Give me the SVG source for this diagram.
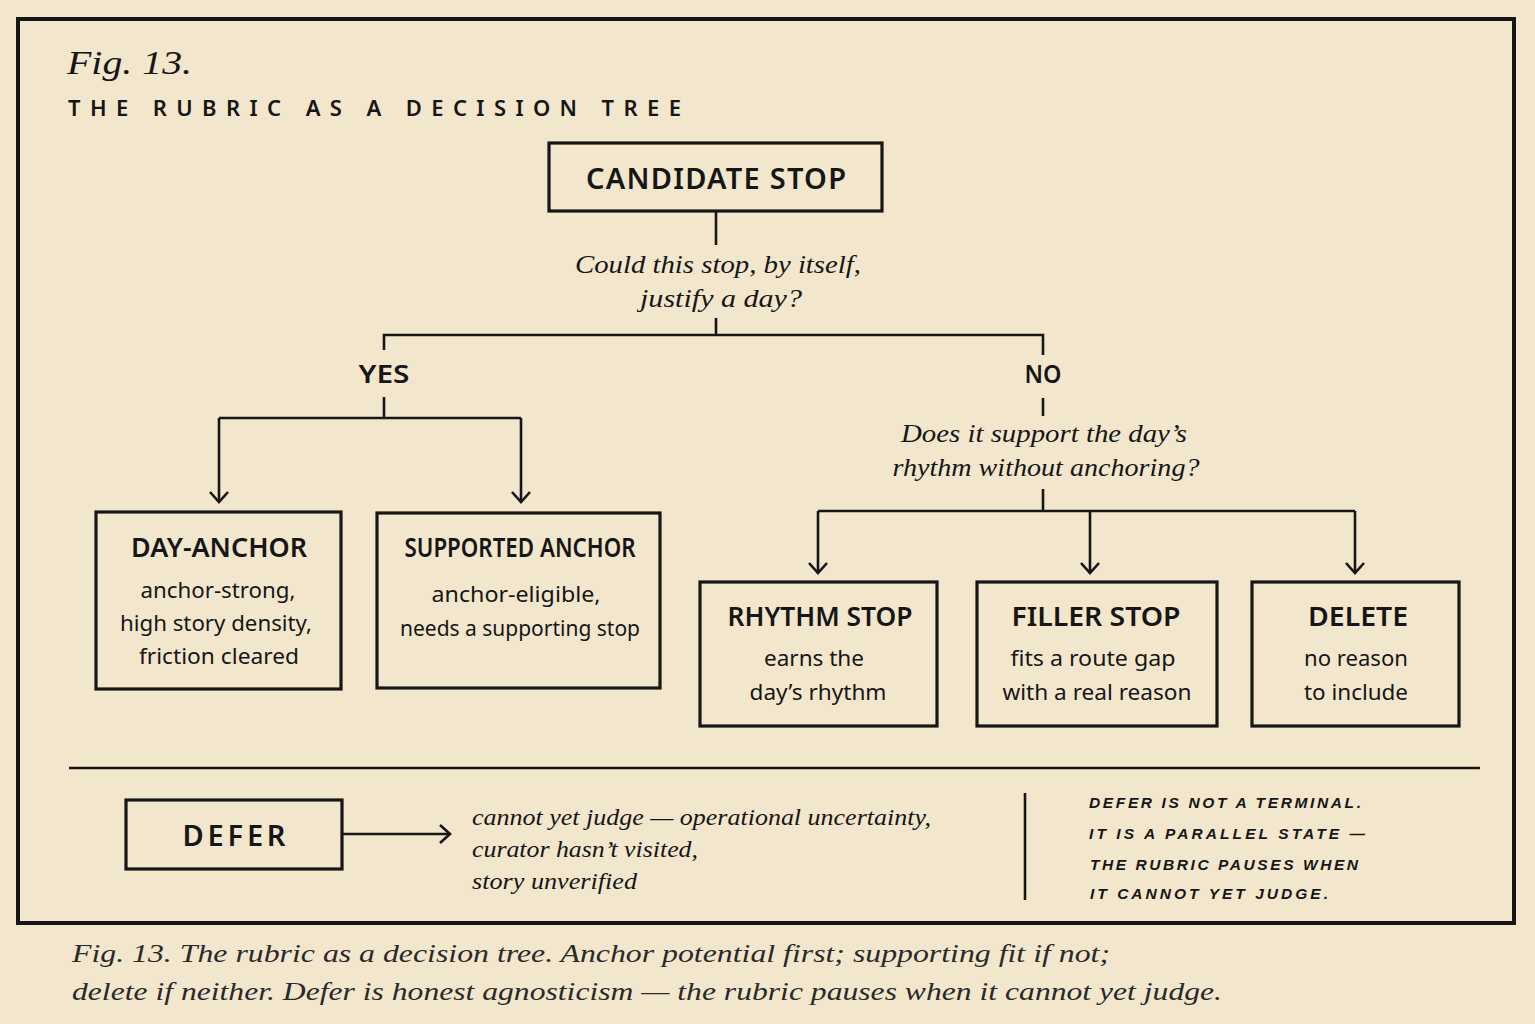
<svg xmlns="http://www.w3.org/2000/svg" width="1535" height="1024" viewBox="0 0 1535 1024">
<style>
.bg{fill:#f2e6cd}
.frame{fill:none;stroke:#161616;stroke-width:4}
.box{fill:none;stroke:#161616;stroke-width:3.2}
.ln{fill:none;stroke:#161616;stroke-width:2.6}
.title{font-family:"Noto Sans","Open Sans",sans-serif;font-weight:600;fill:#161616;text-anchor:middle}
.body{font-family:"Noto Sans","Open Sans",sans-serif;fill:#161616;text-anchor:middle;font-size:21px}
.q{font-family:"Liberation Serif","DejaVu Serif",serif;font-style:italic;fill:#161616;text-anchor:middle;font-size:26px}
.it{font-family:"Liberation Serif","DejaVu Serif",serif;font-style:italic;fill:#161616;font-size:23px}
.note{font-family:"Liberation Sans","DejaVu Sans",sans-serif;font-style:italic;font-weight:bold;fill:#161616;font-size:15.5px}
</style>
<defs>
<marker id="arr" viewBox="0 0 14 20" refX="12" refY="10" markerWidth="14" markerHeight="20" markerUnits="userSpaceOnUse" orient="auto">
<path d="M2,1 L12,10 L2,19" fill="none" stroke="#161616" stroke-width="2.6"/>
</marker>
</defs>
<rect class="bg" x="0" y="0" width="1535" height="1024"/>
<rect class="frame" x="18" y="19" width="1496" height="904"/>

<g id="header">
<text x="67" y="74" font-family="Liberation Serif,serif" font-style="italic" font-size="34" fill="#161616" textLength="125" lengthAdjust="spacingAndGlyphs">Fig. 13.</text>
<text x="68" y="116" font-family="Noto Sans,Open Sans,sans-serif" font-weight="600" font-size="22" fill="#161616" textLength="613" lengthAdjust="spacing">THE RUBRIC AS A DECISION TREE</text>
</g>

<g id="connectors">
<path class="ln" d="M716,211 V245"/>
<path class="ln" d="M716,318 V335 M384,350 V335 H1043 V355"/>
<path class="ln" d="M384,397 V418 M219,418 H521"/>
<path class="ln" d="M219,418 V502" marker-end="url(#arr)"/>
<path class="ln" d="M521,418 V502" marker-end="url(#arr)"/>
<path class="ln" d="M1043,398 V416"/>
<path class="ln" d="M1043,489 V511 M818,511 H1355"/>
<path class="ln" d="M818,511 V573" marker-end="url(#arr)"/>
<path class="ln" d="M1090,511 V573" marker-end="url(#arr)"/>
<path class="ln" d="M1355,511 V573" marker-end="url(#arr)"/>
<path class="ln" d="M342,834 H450" marker-end="url(#arr)"/>
</g>

<g id="q1">
<text class="q" x="718" y="273" textLength="286" lengthAdjust="spacingAndGlyphs">Could this stop, by itself,</text>
<text class="q" x="721" y="307" textLength="162" lengthAdjust="spacingAndGlyphs">justify a day?</text>
</g>
<g id="label-yes">
<text class="title" x="384" y="383" font-size="25" textLength="51" lengthAdjust="spacingAndGlyphs">YES</text>
</g>
<g id="label-no">
<text class="title" x="1043" y="383" font-size="25" textLength="37" lengthAdjust="spacingAndGlyphs">NO</text>
</g>
<g id="q2">
<text class="q" x="1044" y="442" textLength="286" lengthAdjust="spacingAndGlyphs">Does it support the day’s</text>
<text class="q" x="1046" y="476" textLength="307" lengthAdjust="spacingAndGlyphs">rhythm without anchoring?</text>
</g>

<g id="candidate-stop">
<rect class="box" x="549" y="143" width="333" height="68"/>
<text class="title" x="716" y="189" font-size="29" textLength="260" lengthAdjust="spacing">CANDIDATE STOP</text>
</g>

<g id="day-anchor">
<rect class="box" x="96" y="512" width="245" height="177"/>
<text class="title" x="219" y="557" font-size="27" textLength="176" lengthAdjust="spacingAndGlyphs">DAY-ANCHOR</text>
<text class="body" x="218" y="598" textLength="155" lengthAdjust="spacingAndGlyphs">anchor-strong,</text>
<text class="body" x="216" y="631" textLength="192" lengthAdjust="spacingAndGlyphs">high story density,</text>
<text class="body" x="219" y="664" textLength="160" lengthAdjust="spacingAndGlyphs">friction cleared</text>
</g>

<g id="supported-anchor">
<rect class="box" x="377" y="513" width="283" height="175"/>
<text class="title" x="520" y="557" font-size="27" textLength="231" lengthAdjust="spacingAndGlyphs">SUPPORTED ANCHOR</text>
<text class="body" x="516" y="602" textLength="169" lengthAdjust="spacingAndGlyphs">anchor-eligible,</text>
<text class="body" x="520" y="636" textLength="240" lengthAdjust="spacingAndGlyphs">needs a supporting stop</text>
</g>

<g id="rhythm-stop">
<rect class="box" x="700" y="582" width="237" height="144"/>
<text class="title" x="820" y="626" font-size="27" textLength="185" lengthAdjust="spacingAndGlyphs">RHYTHM STOP</text>
<text class="body" x="814" y="666" textLength="100" lengthAdjust="spacingAndGlyphs">earns the</text>
<text class="body" x="818" y="700" textLength="137" lengthAdjust="spacingAndGlyphs">day’s rhythm</text>
</g>

<g id="filler-stop">
<rect class="box" x="977" y="582" width="240" height="144"/>
<text class="title" x="1096" y="626" font-size="27" textLength="169" lengthAdjust="spacingAndGlyphs">FILLER STOP</text>
<text class="body" x="1093" y="666" textLength="165" lengthAdjust="spacingAndGlyphs">fits a route gap</text>
<text class="body" x="1097" y="700" textLength="189" lengthAdjust="spacingAndGlyphs">with a real reason</text>
</g>

<g id="delete">
<rect class="box" x="1252" y="582" width="207" height="144"/>
<text class="title" x="1358" y="626" font-size="27" textLength="100" lengthAdjust="spacingAndGlyphs">DELETE</text>
<text class="body" x="1356" y="666" textLength="104" lengthAdjust="spacingAndGlyphs">no reason</text>
<text class="body" x="1356" y="700" textLength="104" lengthAdjust="spacingAndGlyphs">to include</text>
</g>

<path class="ln" d="M69,768 H1480"/>

<g id="defer">
<rect class="box" x="126" y="800" width="216" height="69"/>
<text class="title" x="234" y="846" font-size="29" textLength="103" lengthAdjust="spacing">DEFER</text>
</g>

<g id="defer-desc">
<text class="it" x="472" y="825" textLength="459" lengthAdjust="spacingAndGlyphs">cannot yet judge — operational uncertainty,</text>
<text class="it" x="472" y="857" textLength="226" lengthAdjust="spacingAndGlyphs">curator hasn’t visited,</text>
<text class="it" x="472" y="889" textLength="165" lengthAdjust="spacingAndGlyphs">story unverified</text>
</g>

<g id="defer-note">
<path class="ln" d="M1025,793 V900" stroke-width="3"/>
<text class="note" x="1089" y="808" textLength="272" lengthAdjust="spacing">DEFER IS NOT A TERMINAL.</text>
<text class="note" x="1089" y="839" textLength="276" lengthAdjust="spacing">IT IS A PARALLEL STATE —</text>
<text class="note" x="1090" y="870" textLength="268" lengthAdjust="spacing">THE RUBRIC PAUSES WHEN</text>
<text class="note" x="1090" y="899" textLength="238" lengthAdjust="spacing">IT CANNOT YET JUDGE.</text>
</g>

<g id="caption">
<text x="72" y="962" font-family="Liberation Serif,serif" font-style="italic" font-size="26" fill="#2a2a2a" textLength="1038" lengthAdjust="spacingAndGlyphs">Fig. 13. The rubric as a decision tree. Anchor potential first; supporting fit if not;</text>
<text x="72" y="1000" font-family="Liberation Serif,serif" font-style="italic" font-size="26" fill="#2a2a2a" textLength="1150" lengthAdjust="spacingAndGlyphs">delete if neither. Defer is honest agnosticism — the rubric pauses when it cannot yet judge.</text>
</g>
</svg>
